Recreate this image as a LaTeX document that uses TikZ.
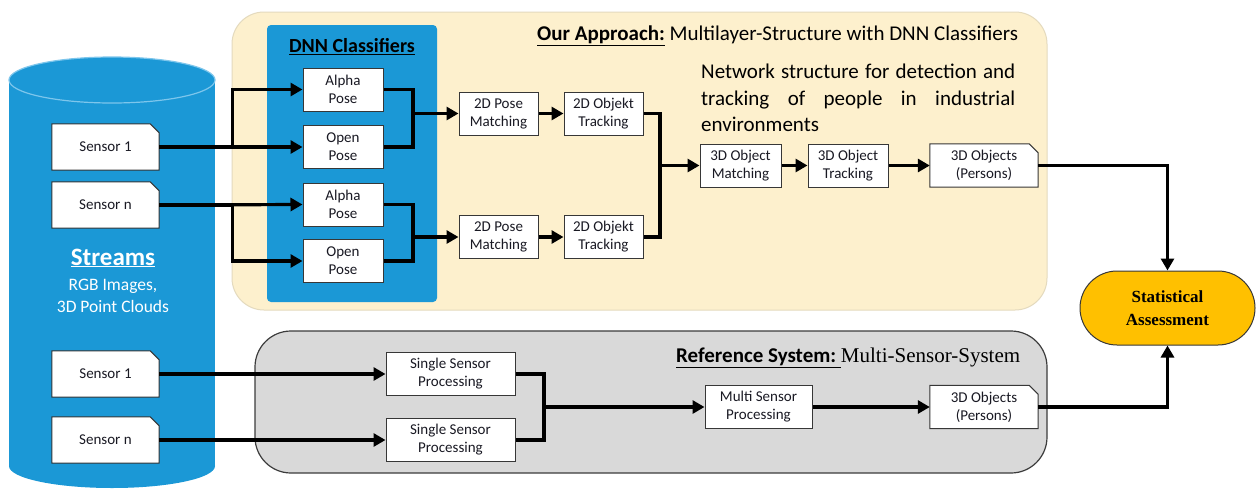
\documentclass[tikz,border=0pt]{standalone}
\usepackage{fontspec}
\setmainfont{Carlito}
\newfontfamily\tnr{Liberation Serif}
\usetikzlibrary{arrows.meta,calc}
\definecolor{cylblue}{RGB}{27,152,214}
\definecolor{cyledge}{RGB}{125,198,236}
\definecolor{yel}{RGB}{253,240,205}
\definecolor{yeledge}{RGB}{228,218,190}
\definecolor{grayfill}{RGB}{217,217,217}
\definecolor{grayedge}{RGB}{60,60,60}
\definecolor{orng}{RGB}{255,192,0}
\definecolor{boxedge}{RGB}{55,55,55}
\definecolor{txt}{RGB}{25,25,35}
\newcommand\dogear[2]{%
  \fill[#2] ([xshift=-9pt]#1.north east) -- ([xshift=0.6pt,yshift=0.6pt]#1.north east) -- ([yshift=-9pt]#1.north east) -- cycle;
  \draw[draw=boxedge,line width=1pt,line join=miter] (#1.south west) -- (#1.north west) -- ([xshift=-9pt]#1.north east) -- ([yshift=-9pt]#1.north east) -- (#1.south east) -- cycle;}
\begin{document}
\begin{tikzpicture}[x=1pt,y=-1pt,
  box/.style={draw=boxedge, line width=1pt, fill=white, inner sep=0pt, align=center,
    minimum width=80pt, minimum height=43pt, font=\fontsize{15}{18}\selectfont, text=txt},
  doc/.style={fill=white, inner sep=0pt, align=center, minimum width=108pt,
    minimum height=43pt, font=\fontsize{15}{18}\selectfont, text=txt},
  conn/.style={line width=3.2pt, line join=miter},
  arr/.style={conn, -{Triangle[length=12pt,width=13pt]}},
]
\useasboundingbox (0,0) rectangle (1256,488);
\fill[white] (0,0) rectangle (1256,488);

% containers
\fill[cylblue] (9,80) rectangle (215,466);
\fill[cylblue] (112,466) ellipse [x radius=103, y radius=22];
\filldraw[fill=cylblue, draw=cyledge, line width=1.2pt] (112,80) ellipse [x radius=103, y radius=23];
\draw[fill=yel, draw=yeledge, line width=1pt, rounded corners=32pt] (232,12) rectangle (1047,310);
\draw[fill=grayfill, draw=grayedge, line width=1.2pt, rounded corners=36pt] (255,331) rectangle (1047,473);
\fill[cylblue, rounded corners=4pt] (267,25) rectangle (437,302);

% texts
\node[text=white, font=\fontsize{25}{28}\selectfont\bfseries] (streams) at (113,258) {\underline{Streams}};
\node[text=white, font=\fontsize{17.5}{21.5}\selectfont, align=center] (rgb) at (113,296) {RGB Images,\\3D Point Clouds};
\node[font=\fontsize{20}{24}\selectfont\bfseries, text=black] (dnn) at (352,47) {\underline{DNN Classifiers}};
\node[anchor=west, inner sep=0pt, font=\fontsize{21}{25}\selectfont, text=black] (oa) at (537,36)
  {\underline{\textbf{Our Approach:}} Multilayer-Structure with DNN Classifiers};
\node[anchor=north west, inner sep=0pt, align=left, font=\fontsize{21}{26.5}\selectfont, text=black] (net) at (701,64)
  {\makebox[314pt][s]{Network structure for detection and}\\\makebox[314pt][s]{tracking of people in industrial}\\environments};
\node[anchor=west, inner sep=0pt, font=\fontsize{21}{25}\selectfont, text=black] (rs) at (676,358)
  {\underline{\textbf{Reference System:}\ }{\tnr Multi-Sensor-System}};

% sensors
\node[doc, minimum width=107pt, minimum height=46pt] (s1) at (105.5,147) {Sensor 1};
\dogear{s1}{cylblue}
\node[doc, minimum width=107pt, minimum height=46pt] (sn) at (105.5,205) {Sensor n};
\dogear{sn}{cylblue}
\node[doc, minimum width=107pt, minimum height=46pt] (s1b) at (105.5,374) {Sensor 1};
\dogear{s1b}{cylblue}
\node[doc, minimum width=107pt, minimum height=46pt] (snb) at (105.5,440) {Sensor n};
\dogear{snb}{cylblue}

% DNN classifiers
\node[box] (ap1) at (343,89.5) {Alpha\\Pose};
\node[box] (op1) at (343,147) {Open\\Pose};
\node[box] (ap2) at (343,204.5) {Alpha\\Pose};
\node[box] (op2) at (343,261) {Open\\Pose};

% 2D stages
\node[box, minimum width=79pt] (pm1) at (498.5,113.5) {2D Pose\\Matching};
\node[box, minimum width=79pt] (tr1) at (603.5,113.5) {2D Objekt\\Tracking};
\node[box, minimum width=79pt] (pm2) at (498.5,237) {2D Pose\\Matching};
\node[box, minimum width=79pt] (tr2) at (603.5,237) {2D Objekt\\Tracking};

% 3D stages
\node[box, minimum width=81pt] (om) at (740.5,165.5) {3D Object\\Matching};
\node[box, minimum width=80pt] (ot) at (848,165.5) {3D Object\\Tracking};
\node[doc] (o3) at (984,165.5) {3D Objects\\(Persons)};
\dogear{o3}{yel}

% reference system
\node[box, minimum width=129pt] (ss1) at (450.5,374) {Single Sensor\\Processing};
\node[box, minimum width=129pt] (ss2) at (450.5,440) {Single Sensor\\Processing};
\node[box, minimum width=107pt] (msp) at (758.5,407) {Multi Sensor\\Processing};
\node[doc] (o3b) at (984,407) {3D Objects\\(Persons)};
\dogear{o3b}{grayfill}

% assessment
\node[draw=boxedge, line width=1pt, fill=orng, rounded corners=37pt, minimum width=175pt, minimum height=74pt,
  inner sep=0pt, align=center, font=\fontsize{17}{23}\selectfont\tnr\bfseries, text=black] (sa) at (1167.5,308)
  {Statistical\\Assessment};

% junctions
\coordinate (j1) at (413,113.5);
\coordinate (j2) at (413,237);
\coordinate (j3) at (660,165.5);
\coordinate (j4) at (544,407);

% connectors
\draw[arr] (s1.east) -- (op1.west);
\draw[arr] (s1.east) -- ++(73,0) |- (ap1.west);
\draw[arr] (sn.east) -- (ap2.west);
\draw[arr] (sn.east) -- ++(73,0) |- (op2.west);
\draw[conn] (ap1.east) -| (j1);
\draw[conn] (op1.east) -| (j1);
\draw[arr] (j1) -- (pm1.west);
\draw[conn] (ap2.east) -| (j2);
\draw[conn] (op2.east) -| (j2);
\draw[arr] (j2) -- (pm2.west);
\draw[arr] (pm1) -- (tr1);
\draw[arr] (pm2) -- (tr2);
\draw[conn] (tr1.east) -| (j3);
\draw[conn] (tr2.east) -| (j3);
\draw[arr] (j3) -- (om.west);
\draw[arr] (om) -- (ot);
\draw[arr] (ot) -- (o3);
\draw[arr] (o3.east) -| (sa.north);
\draw[arr] (s1b.east) -- (ss1.west);
\draw[arr] (snb.east) -- (ss2.west);
\draw[conn] (ss1.east) -| (j4);
\draw[conn] (ss2.east) -| (j4);
\draw[arr] (j4) -- (msp.west);
\draw[arr] (msp) -- (o3b);
\draw[arr] (o3b.east) -| (sa.south);
\end{tikzpicture}
\end{document}
